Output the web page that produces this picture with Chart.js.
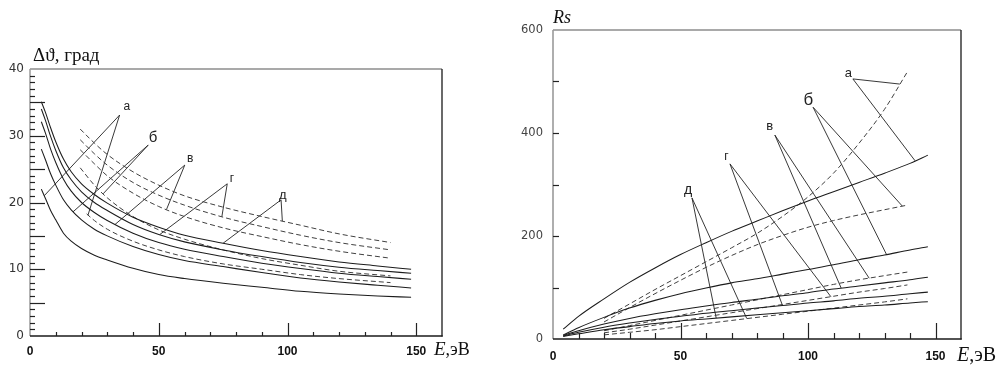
<!DOCTYPE html>
<html lang="ru">
<head>
<meta charset="UTF-8" />
<title>Δϑ и Rs в зависимости от E</title>
<script src="https://cdn.jsdelivr.net/npm/chart.js"></script>
<style>
  body { margin: 0; background: #fff; }
  #wrap { position: relative; width: 1003px; height: 365px; overflow: hidden; }
  canvas { position: absolute; top: 0; }
  #leftChart { left: 0; }
  #rightChart { left: 485px; }
</style>
</head>
<body>
<div id="wrap">
  <canvas id="leftChart" width="480" height="365"></canvas>
  <canvas id="rightChart" width="518" height="365"></canvas>
</div>
<script>
// ---- left panel: Δϑ (град) vs E (эВ) ----
const leftXTicks = [0, 50, 100, 150];
const leftYTicks = [0, 10, 20, 30, 40];

const eSolidL = [4.4, 6, 8, 10, 13, 16, 20, 25, 30, 40, 50, 60, 75, 90, 105, 120, 135, 148];
const dThS1 = [35.1, 33.5, 31.2, 29.1, 26.5, 24.6, 22.8, 21.2, 19.9, 17.8, 16.3, 15.1, 13.9, 12.8, 11.9, 11.1, 10.5, 10.0];
const dThS2 = [34.0, 32.3, 29.9, 27.8, 25.2, 23.4, 21.6, 20.0, 18.8, 16.7, 15.2, 14.1, 12.9, 11.9, 11.0, 10.3, 9.8, 9.4];
const dThS3 = [32.1, 30.4, 28.0, 26.0, 23.5, 21.7, 20.0, 18.5, 17.3, 15.4, 14.0, 13.0, 11.9, 10.9, 10.1, 9.4, 8.9, 8.5];
const dThS4 = [28.0, 26.4, 24.3, 22.6, 20.4, 18.9, 17.4, 16.0, 15.0, 13.4, 12.2, 11.3, 10.4, 9.5, 8.7, 8.1, 7.6, 7.2];
const dThS5 = [22.0, 20.6, 18.8, 17.4, 15.4, 14.2, 13.1, 12.1, 11.4, 10.15, 9.2, 8.6, 7.9, 7.3, 6.7, 6.3, 6.0, 5.8];

const eDashL = [19.5, 25, 30, 40, 50, 60, 75, 90, 105, 120, 140];
const dThD1 = [31.0, 28.9, 27.2, 24.6, 22.6, 21.0, 19.3, 17.9, 16.6, 15.3, 14.0];
const dThD2 = [29.4, 27.3, 25.6, 23.0, 21.1, 19.6, 17.8, 16.4, 15.1, 14.0, 12.9];
const dThD3 = [27.9, 25.8, 24.0, 21.4, 19.4, 17.9, 16.2, 14.9, 13.7, 12.7, 11.65];
const dThD4 = [25.2, 22.6, 20.7, 17.9, 15.9, 14.5, 12.9, 11.6, 10.6, 9.7, 9.0];
const eDashL5 = [22, 25, 30, 40, 50, 60, 75, 90, 105, 120, 140];
const dThD5 = [18.3, 17.3, 16.0, 14.2, 12.9, 11.9, 10.8, 10.0, 9.2, 8.6, 8.0];

// curve letters and their leader lines (label, knee, end on solid, end on dashed)
const letters = ['а', 'б', 'в', 'г', 'д'];
const lblLx = [37.6, 47.8, 62.2, 78.4, 98.2];
const lblLy = [34.4, 29.7, 26.5, 23.5, 21.1];
const rootLx = [34.8, 45.9, 60.1, 76.6, 97.5];
const rootLy = [33.1, 28.6, 25.6, 22.8, 20.4];
const tipSLx = [5.5, 16.7, 33, 50.4, 75];
const tipSLy = [21.0, 18.6, 16.7, 15.2, 13.9];
const tipDLx = [22.5, 28.4, 53, 74.5, 98];
const tipDLy = [18.1, 21.3, 18.95, 17.85, 17.2];

// ---- right panel: Rs vs E (эВ) ----
const rightXTicks = [0, 50, 100, 150];
const rightYTicks = [0, 200, 400, 600];

const eSolidR = [4, 10, 20, 30, 40, 50, 60, 70, 80, 90, 100, 110, 120, 130, 140, 147];
const rsS1 = [19, 44, 78, 110, 138, 164, 187, 209, 229, 249, 268, 286, 304, 322, 341, 357];
const rsS2 = [8, 22, 42, 60, 75, 88, 99, 109, 117, 126, 135, 144, 154, 163, 173, 179];
const rsS3 = [7, 16, 29, 40, 49, 57, 64, 71, 77, 84, 90, 97, 103, 109, 115, 120];
const rsS4 = [6, 13, 23, 31, 38, 44, 50, 55, 60, 65, 70, 74, 79, 83, 88, 91];
const rsS5 = [5, 10, 18, 24, 30, 35, 39, 43, 47, 51, 55, 59, 63, 66, 70, 72.5];

const eDashR = [20, 30, 40, 50, 60, 70, 80, 90, 100, 110, 120, 130, 139];
const rsD1 = [40, 68, 96, 123, 150, 177, 205, 238, 276, 322, 380, 446, 519];
const rsD2 = [33, 61, 88, 114, 139, 162, 183, 201, 217, 230, 241, 251, 260];
const rsD3 = [16, 26, 36, 46, 56, 66, 76, 86, 96, 106, 115, 123, 130];
const rsD4 = [12, 19, 27, 35, 43, 51, 59, 67, 75, 83, 91, 98, 105];
const rsD5 = [8, 13, 18, 24, 30, 36, 42, 48, 54, 60, 66, 72, 78];

const lblRx = [115.8, 100.1, 85, 68, 53];
const lblRy = [516, 464, 412, 354, 289];
const rootRx = [117.6, 102, 87, 69.4, 54.5];
const rootRy = [505, 450, 396, 340, 274];
const tipSRx = [142, 130.8, 113, 90, 64];
const tipSRy = [346, 164, 99, 65, 40.6];
const tipDRx = [136, 137, 124, 109, 76];
const tipDRy = [495, 258, 118, 82, 39.6];

// ---- helpers ----
function pts(xs, ys) {
  return xs.map((v, i) => ({ x: v, y: ys[i] }));
}

function curve(xs, ys, dashed) {
  return {
    data: pts(xs, ys),
    borderColor: dashed ? '#404040' : '#1c1c1c',
    borderWidth: dashed ? 1 : 1.05,
    borderDash: dashed ? [5, 3] : [],
    pointRadius: 0,
    fill: false,
    cubicInterpolationMode: 'monotone'
  };
}

function leaders(rx, ry, sx, sy, dx, dy) {
  return rx.map((v, i) => ({
    data: [{ x: sx[i], y: sy[i] }, { x: v, y: ry[i] }, { x: dx[i], y: dy[i] }],
    borderColor: '#222',
    borderWidth: 0.9,
    pointRadius: 0,
    fill: false,
    tension: 0
  }));
}

// frame, inward ticks, axis titles and curve letters
const decor = {
  id: 'decor',
  afterDraw(chart, args, o) {
    const { ctx, chartArea: a, scales: { x, y } } = chart;
    ctx.save();
    const line = (x1, y1, x2, y2, color, w) => {
      ctx.beginPath();
      ctx.strokeStyle = color;
      ctx.lineWidth = w;
      ctx.moveTo(x1, y1);
      ctx.lineTo(x2, y2);
      ctx.stroke();
    };
    line(a.left, a.top, a.right, a.top, o.topColor, 1.6);
    line(a.left, a.top, a.left, a.bottom, o.leftColor, 1.6);
    line(a.right, a.top, a.right, a.bottom + 0.5, '#2a2a2a', 1.4);
    line(a.left, a.bottom, a.right + 0.7, a.bottom, '#1a1a1a', 1.6);

    for (let v = o.xMinor; v < x.max; v += o.xMinor) {
      const px = Math.round(x.getPixelForValue(v)) + 0.5;
      const len = v % o.xMajor === 0 ? o.xMajorLen : o.xMinorLen;
      line(px, a.bottom, px, a.bottom - len, '#222', 1.2);
    }
    for (let v = o.yMinor; v < y.max; v += o.yMinor) {
      const py = Math.round(y.getPixelForValue(v)) + 0.5;
      const len = v % o.yMajor === 0 ? o.yMajorLen : o.yMinorLen;
      line(a.left, py, a.left + len, py, '#222', 1.2);
    }

    ctx.fillStyle = '#111';
    ctx.textBaseline = 'alphabetic';
    ctx.textAlign = 'left';
    o.titles.forEach(t => {
      let cx = t.x;
      t.parts.forEach(p => {
        ctx.font = p[1];
        ctx.fillText(p[0], cx, t.y);
        cx += ctx.measureText(p[0]).width;
      });
    });

    ctx.textAlign = 'center';
    ctx.textBaseline = 'middle';
    ctx.fillStyle = '#222';
    letters.forEach((s, i) => {
      ctx.font = o.letterSizes[i] + 'px "Liberation Sans", Arial, sans-serif';
      ctx.fillText(s, x.getPixelForValue(o.lx[i]), y.getPixelForValue(o.ly[i]));
    });
    ctx.restore();
  }
};

function axes(xTicks, yTicks, xMax, yMax, yWidth, xHeight, yColor, yFont, yPad, xPad) {
  return {
    x: {
      type: 'linear', min: 0, max: xMax,
      grid: { display: false, drawTicks: false },
      border: { display: false },
      afterBuildTicks: s => { s.ticks = xTicks.map(v => ({ value: v })); },
      afterFit: s => { s.height = xHeight; },
      ticks: {
        autoSkip: false, maxRotation: 0, padding: xPad, color: '#111',
        font: { family: '"Liberation Sans", Arial, sans-serif', size: 12, weight: 'bold' }
      }
    },
    y: {
      type: 'linear', min: 0, max: yMax,
      grid: { display: false, drawTicks: false },
      border: { display: false },
      afterBuildTicks: s => { s.ticks = yTicks.map(v => ({ value: v })); },
      afterFit: s => { s.width = yWidth; },
      ticks: {
        autoSkip: false, padding: yPad, color: yColor,
        font: { family: '"DejaVu Sans", Verdana, sans-serif', size: yFont }
      }
    }
  };
}

new Chart(document.getElementById('leftChart'), {
  type: 'line',
  data: {
    datasets: [
      curve(eSolidL, dThS1), curve(eSolidL, dThS2), curve(eSolidL, dThS3),
      curve(eSolidL, dThS4), curve(eSolidL, dThS5),
      curve(eDashL, dThD1, true), curve(eDashL, dThD2, true), curve(eDashL, dThD3, true),
      curve(eDashL, dThD4, true), curve(eDashL5, dThD5, true),
      ...leaders(rootLx, rootLy, tipSLx, tipSLy, tipDLx, tipDLy)
    ]
  },
  options: {
    responsive: false, animation: false, devicePixelRatio: 1,
    layout: { padding: { left: 0, right: 38, top: 69, bottom: 0 } },
    scales: axes(leftXTicks, leftYTicks, 160, 40, 30, 29, '#333', 12, 6, 8),
    plugins: {
      legend: { display: false },
      tooltip: { enabled: false },
      decor: {
        topColor: '#8c8c8c', leftColor: '#a0a0a0',
        xMinor: 10, xMajor: 50, xMinorLen: 4, xMajorLen: 13,
        yMinor: 1, yMajor: 5, yMinorLen: 5, yMajorLen: 15,
        lx: lblLx, ly: lblLy, letterSizes: [12, 15, 12, 12, 13],
        titles: [
          { x: 33, y: 61, parts: [['Δϑ', '19px "Liberation Serif", "DejaVu Serif", serif'], [', град', '19px "Liberation Serif", serif']] },
          { x: 434, y: 355, parts: [['E', 'italic 19px "Liberation Serif", serif'], [',эВ', '18px "Liberation Serif", serif']] }
        ]
      }
    }
  },
  plugins: [decor]
});

new Chart(document.getElementById('rightChart'), {
  type: 'line',
  data: {
    datasets: [
      curve(eSolidR, rsS1), curve(eSolidR, rsS2), curve(eSolidR, rsS3),
      curve(eSolidR, rsS4), curve(eSolidR, rsS5),
      curve(eDashR, rsD1, true), curve(eDashR, rsD2, true), curve(eDashR, rsD3, true),
      curve(eDashR, rsD4, true), curve(eDashR, rsD5, true),
      ...leaders(rootRx, rootRy, tipSRx, tipSRy, tipDRx, tipDRy)
    ]
  },
  options: {
    responsive: false, animation: false, devicePixelRatio: 1,
    layout: { padding: { left: 0, right: 42, top: 30, bottom: 0 } },
    scales: axes(rightXTicks, rightYTicks, 160, 600, 68, 26, '#444', 11.5, 10, 10),
    plugins: {
      legend: { display: false },
      tooltip: { enabled: false },
      decor: {
        topColor: '#8c8c8c', leftColor: '#9a9a9a',
        xMinor: 10, xMajor: 50, xMinorLen: 6, xMajorLen: 16,
        yMinor: 100, yMajor: 200, yMinorLen: 6, yMajorLen: 6,
        lx: lblRx, ly: lblRy, letterSizes: [13, 17, 13, 12, 14],
        titles: [
          { x: 68, y: 23, parts: [['Rs', 'italic 18px "Liberation Serif", serif']] },
          { x: 472, y: 361, parts: [['E', 'italic 20px "Liberation Serif", serif'], [',эВ', '20px "Liberation Serif", serif']] }
        ]
      }
    }
  },
  plugins: [decor]
});
</script>
</body>
</html>
